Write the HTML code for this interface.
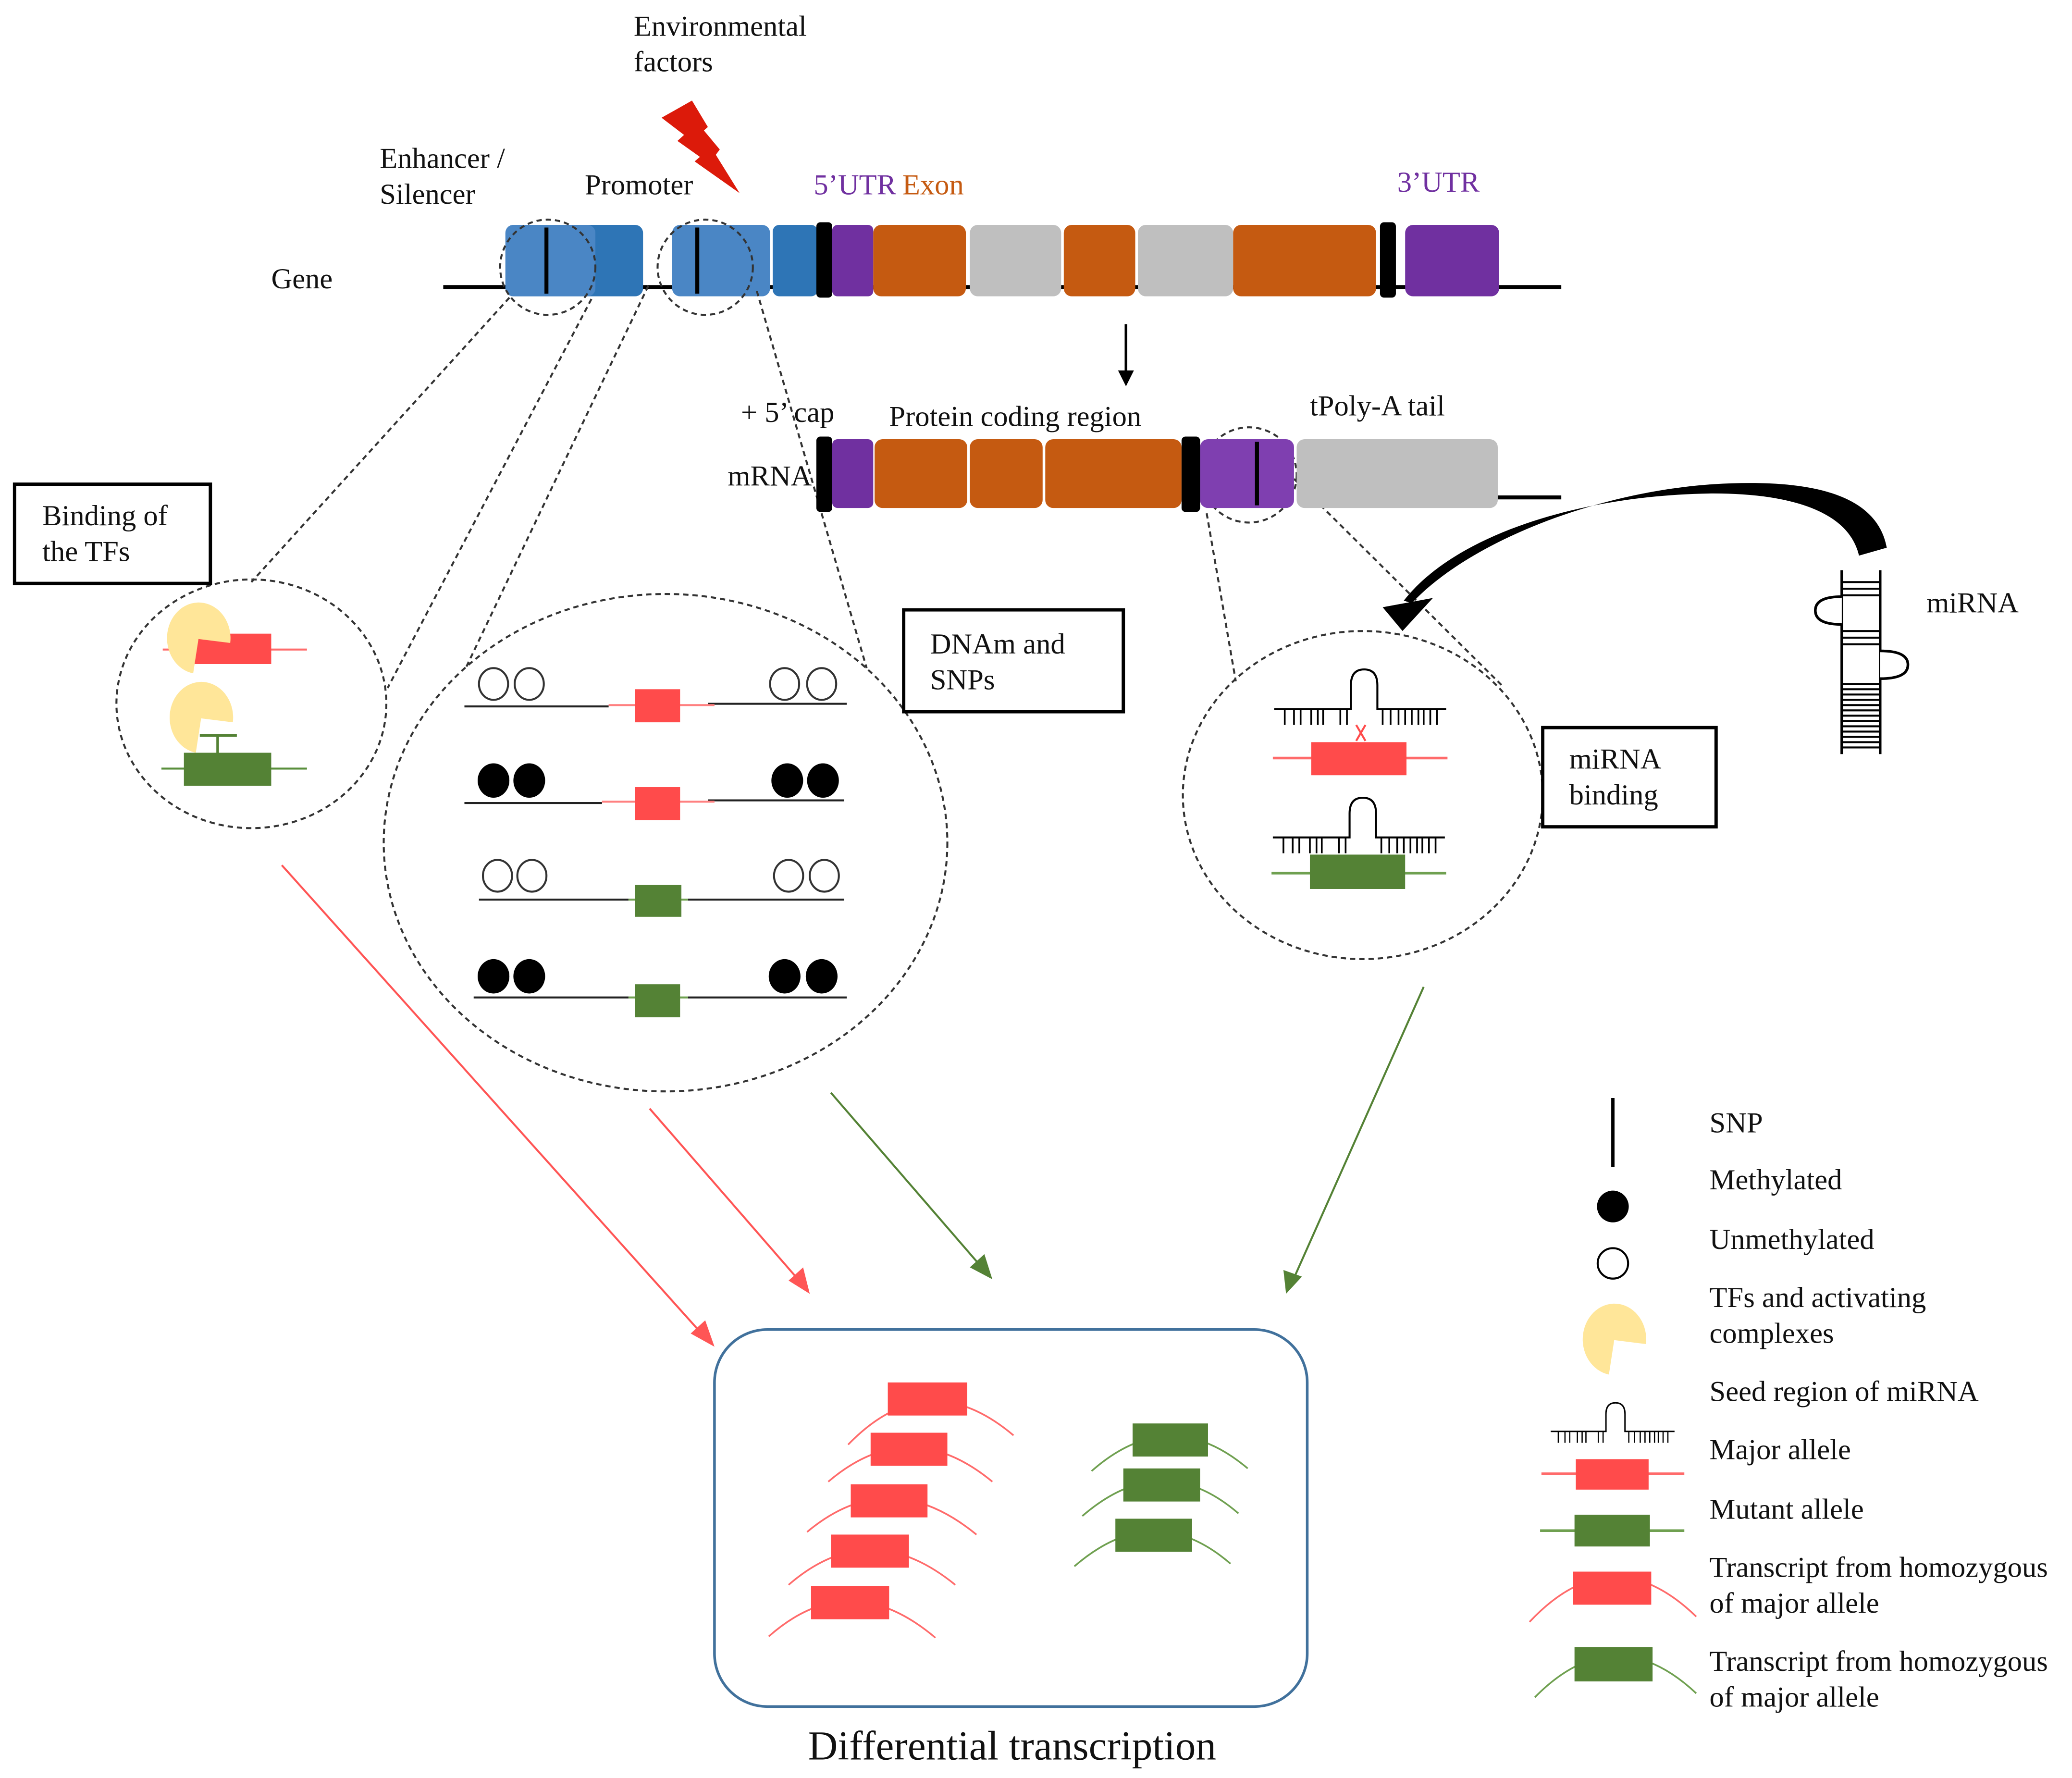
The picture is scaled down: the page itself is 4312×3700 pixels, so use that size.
<!DOCTYPE html>
<html><head><meta charset="utf-8"><style>html,body{margin:0;padding:0;background:#fff}svg{display:block}text{font-family:"Liberation Serif",serif;fill:#111}</style></head><body>
<svg width="4312" height="3700" viewBox="0 0 1566 1344" preserveAspectRatio="none" xmlns="http://www.w3.org/2000/svg">
<defs>
<g id="seed"><path d="M0 0H58V-18Q58-30 68-30Q78-30 78-18V0H130" fill="none" stroke="#000" stroke-width="1.5"/>
<path d="M8 0v12M15 0v12M20 0v12M28 0v12M33 0v12M37 0v12M50 0v12M55 0v12M82 0v12M88 0v12M94 0v12M99 0v12M104 0v12M109 0v12M113 0v12M118 0v12M123 0v12" stroke="#000" stroke-width="1.3"/></g>
<path id="pac" d="M0 0 L24 3 A24 27 0 1 0 -4 26 Z"/>
</defs>
<g font-size="22">
<text x="479" y="27">Environmental</text><text x="479" y="54">factors</text>
<text x="287" y="127">Enhancer /</text><text x="287" y="154">Silencer</text>
<text x="442" y="147">Promoter</text>
<text x="615" y="147" style="fill:#7030A0">5’UTR</text><text x="682" y="147" style="fill:#C55A11">Exon</text>
<text x="1056" y="145" style="fill:#7030A0">3’UTR</text>
<text x="205" y="218">Gene</text>
<text x="560" y="319">+ 5’ cap</text><text x="672" y="322">Protein coding region</text><text x="990" y="314">tPoly-A tail</text>
<text x="550" y="367">mRNA</text>
<text x="1456" y="463">miRNA</text>
</g>
<polygon points="500,89 523,76 535,96 532,98.6 544,113 541,117 559,146 525,122 529,118.6 512,106.5 517,102" fill="#DC1A0A"/>
<!-- gene -->
<line x1="335" y1="217" x2="1180" y2="217" stroke="#000" stroke-width="3"/>
<rect x="382" y="170" width="104" height="54" rx="6" fill="#2E75B6"/>
<rect x="382" y="170" width="68" height="54" rx="6" fill="#4A86C5"/>
<rect x="508" y="170" width="74" height="54" rx="6" fill="#4A86C5"/>
<rect x="584" y="170" width="34" height="54" rx="5" fill="#2E75B6"/>
<rect x="617" y="168" width="12" height="57" rx="3" fill="#000"/>
<rect x="629" y="170" width="31" height="54" rx="4" fill="#7030A0"/>
<rect x="660" y="170" width="70" height="54" rx="6" fill="#C55A11"/>
<rect x="733" y="170" width="69" height="54" rx="6" fill="#BFBFBF"/>
<rect x="804" y="170" width="54" height="54" rx="6" fill="#C55A11"/>
<rect x="860" y="170" width="72" height="54" rx="6" fill="#BFBFBF"/>
<rect x="932" y="170" width="108" height="54" rx="6" fill="#C55A11"/>
<rect x="1043" y="168" width="12" height="57" rx="3" fill="#000"/>
<rect x="1062" y="170" width="71" height="54" rx="6" fill="#7030A0"/>
<line x1="413" y1="172" x2="413" y2="222" stroke="#000" stroke-width="3"/>
<line x1="527" y1="172" x2="527" y2="222" stroke="#000" stroke-width="3"/>
<g fill="none" stroke="#333" stroke-width="1.5" stroke-dasharray="4,3">
<circle cx="414" cy="202" r="36"/><circle cx="533" cy="202" r="36"/><circle cx="944" cy="359" r="36"/>
<line x1="385" y1="225" x2="190" y2="440"/><line x1="447" y1="226" x2="293" y2="520"/>
<line x1="490" y1="216" x2="352" y2="505"/><line x1="572" y1="220" x2="655" y2="505"/>
<line x1="912" y1="388" x2="934" y2="515"/><line x1="978" y1="362" x2="1135" y2="518"/>
<ellipse cx="190" cy="532" rx="102" ry="94"/><ellipse cx="503" cy="637" rx="213" ry="188"/><ellipse cx="1030" cy="601" rx="136" ry="124"/>
</g>
<!-- down arrow -->
<line x1="851" y1="245" x2="851" y2="282" stroke="#000" stroke-width="2"/><polygon points="845,280 857,280 851,292" fill="#000"/>
<!-- mRNA -->
<line x1="1130" y1="376" x2="1180" y2="376" stroke="#000" stroke-width="3"/>
<rect x="617" y="330" width="12" height="57" rx="3" fill="#000"/>
<rect x="629" y="332" width="31" height="52" rx="4" fill="#7030A0"/>
<rect x="661" y="332" width="70" height="52" rx="6" fill="#C55A11"/>
<rect x="733" y="332" width="55" height="52" rx="6" fill="#C55A11"/>
<rect x="790" y="332" width="103" height="52" rx="6" fill="#C55A11"/>
<rect x="893" y="330" width="14" height="57" rx="3" fill="#000"/>
<rect x="907" y="332" width="71" height="52" rx="6" fill="#7F3FB0"/>
<rect x="980" y="332" width="152" height="52" rx="6" fill="#BFBFBF"/>
<line x1="950" y1="334" x2="950" y2="382" stroke="#000" stroke-width="3"/>
<!-- boxes -->
<g fill="#fff" stroke="#000" stroke-width="2.5">
<rect x="11" y="366" width="148" height="75"/><rect x="683" y="461" width="166" height="77"/><rect x="1166" y="550" width="131" height="75"/>
</g>
<g font-size="22"><text x="32" y="397">Binding of</text><text x="32" y="424">the TFs</text>
<text x="703" y="494">DNAm and</text><text x="703" y="521">SNPs</text>
<text x="1186" y="581">miRNA</text><text x="1186" y="608">binding</text></g>
<!-- TF circle -->
<line x1="123" y1="491" x2="232" y2="491" stroke="#FF6B6B" stroke-width="1.5"/>
<rect x="147" y="479" width="58" height="23" fill="#FF4B4B"/>
<use href="#pac" x="150" y="483" fill="#FFE699"/>
<line x1="122" y1="581" x2="232" y2="581" stroke="#5A8F3C" stroke-width="1.5"/>
<rect x="139" y="569" width="66" height="25" fill="#548235"/>
<use href="#pac" x="152" y="543" fill="#FFE699"/>
<path d="M151 556H179M164.5 556V569" stroke="#548235" stroke-width="2" fill="none"/>
<!-- DNAm rows -->
<g stroke="#222" stroke-width="1.5">
<line x1="351" y1="534" x2="460" y2="534"/><line x1="535" y1="532" x2="640" y2="532"/>
<line x1="351" y1="607" x2="455" y2="607"/><line x1="535" y1="605" x2="638" y2="605"/>
<line x1="362" y1="680" x2="475" y2="680"/><line x1="520" y1="680" x2="638" y2="680"/>
<line x1="358" y1="754" x2="475" y2="754"/><line x1="520" y1="754" x2="640" y2="754"/>
</g>
<g stroke="#FF8080" stroke-width="1.5"><line x1="460" y1="533" x2="540" y2="533"/><line x1="455" y1="606" x2="540" y2="606"/></g>
<g stroke="#6FA050" stroke-width="1.5"><line x1="475" y1="680" x2="520" y2="680"/><line x1="475" y1="754" x2="520" y2="754"/></g>
<rect x="480" y="521" width="34" height="25" fill="#FF4B4B"/><rect x="480" y="595" width="34" height="25" fill="#FF4B4B"/>
<rect x="480" y="669" width="35" height="24" fill="#548235"/><rect x="480" y="744" width="34" height="25" fill="#548235"/>
<g fill="none" stroke="#333" stroke-width="1.5">
<ellipse cx="373" cy="517" rx="11" ry="12"/><ellipse cx="400" cy="517" rx="11" ry="12"/><ellipse cx="593" cy="517" rx="11" ry="12"/><ellipse cx="621" cy="517" rx="11" ry="12"/>
<ellipse cx="376" cy="662" rx="11" ry="12"/><ellipse cx="402" cy="662" rx="11" ry="12"/><ellipse cx="596" cy="662" rx="11" ry="12"/><ellipse cx="623" cy="662" rx="11" ry="12"/>
</g>
<g fill="#000">
<ellipse cx="373" cy="590" rx="12" ry="13"/><ellipse cx="400" cy="590" rx="12" ry="13"/><ellipse cx="595" cy="590" rx="12" ry="13"/><ellipse cx="622" cy="590" rx="12" ry="13"/>
<ellipse cx="373" cy="738" rx="12" ry="13"/><ellipse cx="400" cy="738" rx="12" ry="13"/><ellipse cx="593" cy="738" rx="12" ry="13"/><ellipse cx="621" cy="738" rx="12" ry="13"/>
</g>
<!-- miRNA circle -->
<use href="#seed" x="963" y="536"/>
<path d="M1025 548l7 12M1032 548l-7 12" stroke="#FF4B4B" stroke-width="1.5"/>
<line x1="962" y1="573" x2="1094" y2="573" stroke="#FF6B6B" stroke-width="2"/>
<rect x="991" y="561" width="72" height="25" fill="#FF4B4B"/>
<line x1="961" y1="660" x2="1093" y2="660" stroke="#6FA050" stroke-width="2"/>
<use href="#seed" x="962" y="633"/>
<rect x="990" y="646" width="72" height="26" fill="#548235"/>
<!-- curved arrow -->
<path d="M1426 414 C1418 370 1360 362 1295 366 C1205 372 1110 410 1067 456 L1061 454 C1100 404 1195 374 1295 373 C1350 373 1397 385 1405 420 Z" fill="#000"/>
<polygon points="1045,459 1083,452 1060,477" fill="#000"/>
<!-- hairpin -->
<g stroke="#000" fill="none" stroke-width="2">
<line x1="1392" y1="431" x2="1392" y2="570"/><line x1="1421" y1="431" x2="1421" y2="570"/>
<path d="M1392 451 Q1372 451 1372 461.5 Q1372 472 1392 472" fill="#fff"/>
<path d="M1421 492 Q1442 492 1442 502.5 Q1442 513 1421 513" fill="#fff"/>
</g>
<g stroke="#000" stroke-width="1.5">
<path d="M1392 440H1421M1392 445H1421M1392 450H1421M1392 477H1421M1392 482H1421M1392 487H1421M1392 517H1421M1392 521H1421M1392 525H1421M1392 529H1421M1392 533H1421M1392 537H1421M1392 541H1421M1392 545H1421M1392 549H1421M1392 553H1421M1392 557H1421M1392 561H1421M1392 565H1421"/>
</g>
<!-- colored arrows -->
<g stroke-width="1.5">
<line x1="213" y1="654" x2="532" y2="1010" stroke="#FF5555"/>
<line x1="491" y1="838" x2="604" y2="968" stroke="#FF5555"/>
<line x1="628" y1="826" x2="742" y2="958" stroke="#548235"/>
<line x1="1076" y1="746" x2="978" y2="966" stroke="#548235"/>
</g>
<polygon points="540,1018 522,1008 533,998" fill="#FF5555"/>
<polygon points="612,978 596,968 607,958" fill="#FF5555"/>
<polygon points="750,967 733,958 744,948" fill="#548235"/>
<polygon points="972,978 970,960 984,965" fill="#548235"/>
<!-- result box -->
<rect x="540" y="1005" width="448" height="285" rx="40" fill="none" stroke="#41719C" stroke-width="2"/>
<text x="765" y="1330" font-size="31" text-anchor="middle">Differential transcription</text>
<g fill="none" stroke="#FF6B6B" stroke-width="1.3">
<path d="M641 1092Q701 1030 766 1085"/><path d="M626 1120Q687 1068 750 1120"/><path d="M610 1158Q672 1106 738 1160"/><path d="M596 1198Q657 1145 722 1198"/><path d="M581 1237Q642 1183 707 1238"/>
</g>
<g fill="#FF4B4B"><rect x="671" y="1045" width="60" height="25"/><rect x="658" y="1083" width="58" height="25"/><rect x="643" y="1122" width="58" height="25"/><rect x="628" y="1160" width="59" height="25"/><rect x="613" y="1199" width="59" height="25"/></g>
<g fill="none" stroke="#6FA050" stroke-width="1.3">
<path d="M825 1112Q884 1060 943 1110"/><path d="M818 1146Q878 1094 936 1144"/><path d="M812 1184Q872 1132 930 1182"/>
</g>
<g fill="#548235"><rect x="856" y="1076" width="57" height="25"/><rect x="849" y="1110" width="58" height="25"/><rect x="843" y="1148" width="58" height="25"/></g>
<!-- legend -->
<line x1="1219" y1="830" x2="1219" y2="882" stroke="#000" stroke-width="2.5"/>
<circle cx="1219" cy="912" r="12" fill="#000"/>
<circle cx="1219" cy="955" r="11.5" fill="none" stroke="#000" stroke-width="1.5"/>
<use href="#pac" x="1220" y="1013" fill="#FFE699"/>
<g transform="translate(1172,1082) scale(0.72)"><use href="#seed"/></g>
<line x1="1165" y1="1114" x2="1273" y2="1114" stroke="#FF6B6B" stroke-width="2"/><rect x="1191" y="1103" width="55" height="23" fill="#FF4B4B"/>
<line x1="1164" y1="1157" x2="1273" y2="1157" stroke="#6FA050" stroke-width="2"/><rect x="1190" y="1145" width="57" height="24" fill="#548235"/>
<path d="M1156 1226Q1218 1160 1282 1222" fill="none" stroke="#FF6B6B" stroke-width="1.3"/><rect x="1189" y="1188" width="59" height="25" fill="#FF4B4B"/>
<path d="M1160 1283Q1220 1222 1282 1280" fill="none" stroke="#6FA050" stroke-width="1.3"/><rect x="1190" y="1245" width="59" height="26" fill="#548235"/>
<g font-size="22">
<text x="1292" y="856">SNP</text><text x="1292" y="899">Methylated</text><text x="1292" y="944">Unmethylated</text>
<text x="1292" y="988">TFs and activating</text><text x="1292" y="1015">complexes</text>
<text x="1292" y="1059">Seed region of miRNA</text><text x="1292" y="1103">Major allele</text><text x="1292" y="1148">Mutant allele</text>
<text x="1292" y="1192">Transcript from homozygous</text><text x="1292" y="1219">of major allele</text>
<text x="1292" y="1263">Transcript from homozygous</text><text x="1292" y="1290">of major allele</text>
</g>
</svg>
</body></html>
